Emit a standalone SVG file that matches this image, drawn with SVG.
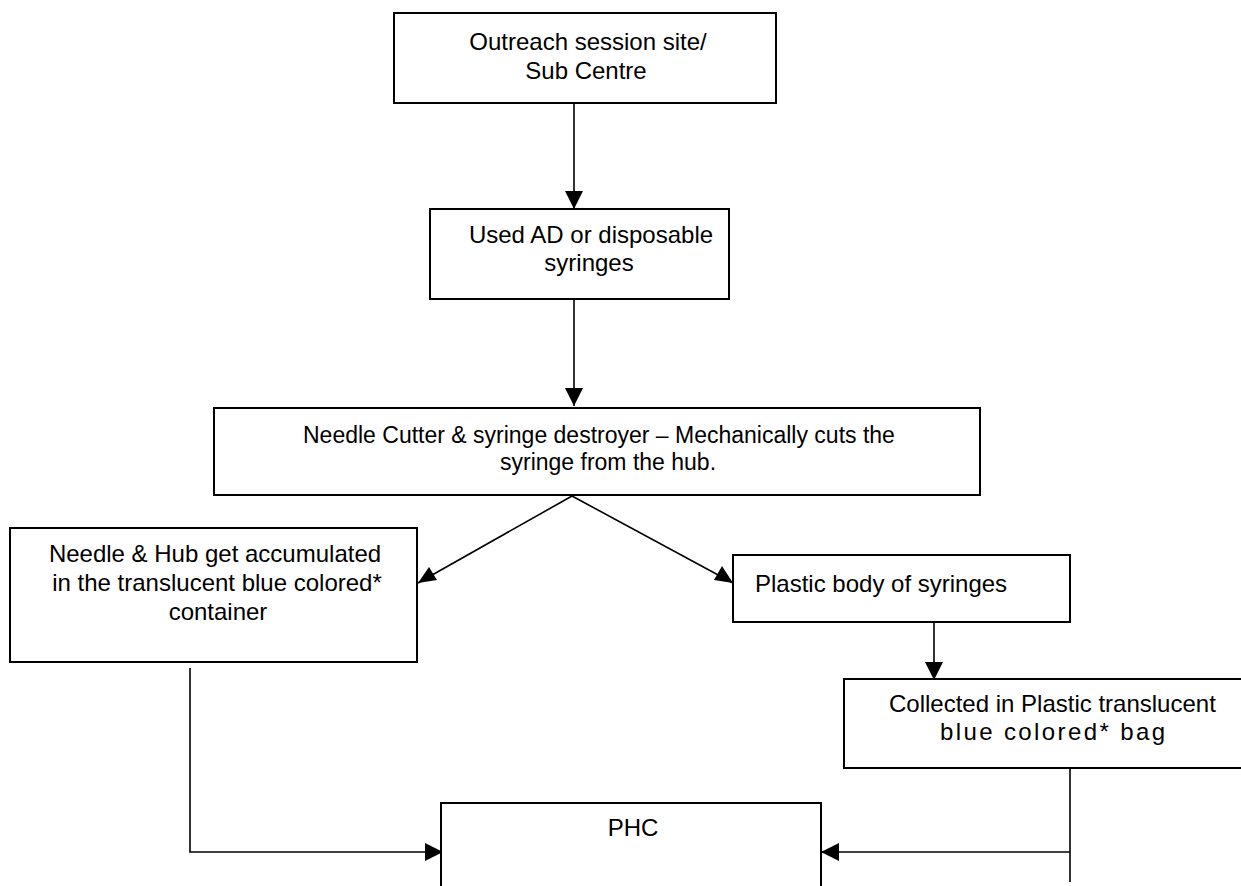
<svg xmlns="http://www.w3.org/2000/svg" width="1241" height="886" viewBox="0 0 1241 886">
<style>
.box{fill:#fff;stroke:#000;stroke-width:2}
.t{font-family:"Liberation Sans",Arial,sans-serif;font-size:24px;fill:#000}
.s23{font-size:23px}
.c{text-anchor:middle}
.ln{fill:none;stroke:#000;stroke-width:1.6}
</style>
<g id="connectors">
<line class="ln" x1="574" y1="103" x2="574" y2="209"/>
<polygon points="565,191 583,191 574,209"/>
<line class="ln" x1="574" y1="284" x2="574" y2="406"/>
<polygon points="565,388 583,388 574,406"/>
<line class="ln" x1="572" y1="496" x2="418" y2="583"/>
<polygon points="418,583 429,567 437,580"/>
<line class="ln" x1="572" y1="496" x2="733" y2="583"/>
<polygon points="733,583 714,580 722,566"/>
<line class="ln" x1="934" y1="622" x2="934" y2="680"/>
<polygon points="925,662 943,662 934,680"/>
<polyline class="ln" points="190,668 190,852 443,852"/>
<polygon points="425,843 425,861 443,852"/>
<polyline class="ln" points="1070,764 1070,882"/>
<line class="ln" x1="1070" y1="852" x2="821" y2="852"/>
<polygon points="839,843 839,861 821,852"/>
</g>
<g id="n1">
<rect class="box" x="394" y="13" width="382" height="90"/>
<text class="t c" x="588" y="50">Outreach session site/</text>
<text class="t c" x="586" y="79">Sub Centre</text>
</g>
<g id="n2">
<rect class="box" x="430" y="209" width="299" height="90"/>
<text class="t c" x="591" y="243">Used AD or disposable</text>
<text class="t c" x="589" y="271">syringes</text>
</g>
<g id="n3">
<rect class="box" x="214" y="408" width="766" height="87"/>
<text class="t s23" x="303" y="443">Needle Cutter &amp; syringe destroyer – Mechanically cuts the</text>
<text class="t s23" x="500" y="470">syringe from the hub.</text>
</g>
<g id="n4">
<rect class="box" x="10" y="528" width="407" height="134"/>
<text class="t c" x="215" y="562">Needle &amp; Hub get accumulated</text>
<text class="t c" x="217" y="591">in the translucent blue colored*</text>
<text class="t c" x="218" y="620">container</text>
</g>
<g id="n5">
<rect class="box" x="733" y="555" width="337" height="67"/>
<text class="t" x="755" y="592">Plastic body of syringes</text>
</g>
<g id="n6">
<rect class="box" x="844" y="679" width="402" height="89"/>
<text class="t" x="889" y="712">Collected in Plastic translucent</text>
<text class="t" x="940" y="740" textLength="225" lengthAdjust="spacing">blue colored* bag</text>
</g>
<g id="n7">
<path class="box" d="M441,890 L441,803 L821,803 L821,890"/>
<text class="t c" x="633" y="836">PHC</text>
</g>
</svg>
